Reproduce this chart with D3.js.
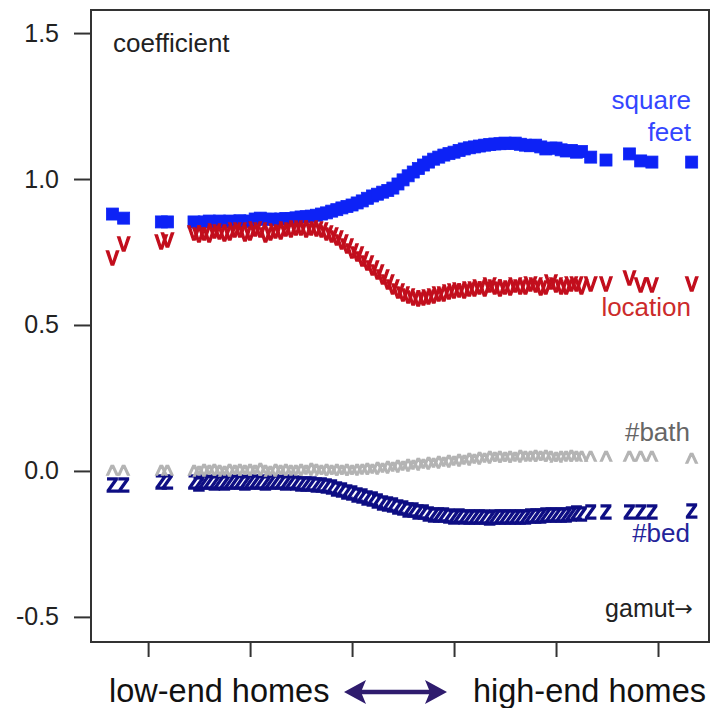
<!DOCTYPE html>
<html>
<head>
<meta charset="utf-8">
<script src="https://cdn.jsdelivr.net/npm/d3@7"></script>
<style>
  body { margin: 0; background: #fff; }
  svg { display: block; font-family: "Liberation Sans", Arial, Helvetica, sans-serif; }
</style>
</head>
<body>
<div id="chart"></div>
<script>
// gamut position of each fitted coefficient (x), shared by all four series
const gamut = [0.65, 0.76, 1.13, 1.19,
  1.45, 1.50, 1.55, 1.60, 1.65, 1.70, 1.75, 1.80, 1.85, 1.90,
  1.95, 2.00, 2.05, 2.10, 2.15, 2.20, 2.25, 2.30, 2.35, 2.40,
  2.45, 2.50, 2.55, 2.60, 2.65, 2.70, 2.75, 2.80, 2.85, 2.90,
  2.95, 3.00, 3.05, 3.10, 3.15, 3.20, 3.25, 3.30, 3.35, 3.40,
  3.45, 3.50, 3.55, 3.60, 3.65, 3.70, 3.75, 3.80, 3.85, 3.90,
  3.95, 4.00, 4.05, 4.10, 4.15, 4.20, 4.25, 4.30, 4.35, 4.40,
  4.45, 4.50, 4.55, 4.60, 4.65, 4.70, 4.75, 4.80, 4.85, 4.90,
  4.95, 5.00, 5.05, 5.10, 5.15, 5.20, 5.25,
  5.34, 5.49, 5.72, 5.83, 5.94, 6.33];

const sqftCoef = [0.880, 0.866, 0.853, 0.853,
  0.853, 0.849, 0.853, 0.856, 0.852, 0.856, 0.853, 0.856, 0.854, 0.857,
  0.855, 0.856, 0.863, 0.866, 0.862, 0.863, 0.861, 0.863, 0.865, 0.864,
  0.867, 0.870, 0.871, 0.873, 0.876, 0.880, 0.884, 0.890, 0.895, 0.901,
  0.906, 0.911, 0.918, 0.925, 0.934, 0.942, 0.948, 0.955, 0.961, 0.969,
  0.983, 0.997, 1.011, 1.024, 1.036, 1.048, 1.058, 1.068, 1.075, 1.082,
  1.087, 1.092, 1.098, 1.103, 1.107, 1.110, 1.113, 1.116, 1.118, 1.120,
  1.121, 1.123, 1.122, 1.123, 1.119, 1.116, 1.114, 1.116, 1.110, 1.103,
  1.106, 1.106, 1.100, 1.096, 1.098, 1.092, 1.094,
  1.075, 1.065, 1.086, 1.062, 1.058, 1.058];

const locationCoef = [0.729, 0.774, 0.781, 0.791,
  0.812, 0.805, 0.815, 0.808, 0.820, 0.818, 0.809, 0.812, 0.822, 0.822,
  0.811, 0.815, 0.826, 0.825, 0.808, 0.812, 0.821, 0.818, 0.828, 0.825,
  0.831, 0.829, 0.822, 0.829, 0.826, 0.822, 0.812, 0.805, 0.795, 0.781,
  0.770, 0.753, 0.742, 0.726, 0.712, 0.695, 0.680, 0.661, 0.645, 0.627,
  0.615, 0.606, 0.596, 0.589, 0.587, 0.592, 0.595, 0.599, 0.604, 0.606,
  0.610, 0.613, 0.618, 0.616, 0.621, 0.623, 0.627, 0.623, 0.634, 0.627,
  0.622, 0.630, 0.626, 0.634, 0.628, 0.630, 0.640, 0.634, 0.625, 0.630,
  0.644, 0.634, 0.628, 0.627, 0.640, 0.637, 0.630,
  0.637, 0.637, 0.658, 0.634, 0.634, 0.637];

const bathCoef = [0.003, 0.003, 0.003, 0.003,
  0.003, 0.000, 0.005, 0.002, 0.007, 0.003, 0.000, 0.005, 0.003, 0.007,
  0.002, 0.005, 0.003, 0.008, 0.004, 0.000, 0.006, 0.003, 0.007, 0.004,
  0.002, 0.006, 0.003, 0.008, 0.005, 0.003, 0.007, 0.004, 0.006, 0.003,
  0.005, 0.003, 0.006, 0.005, 0.009, 0.007, 0.012, 0.010, 0.015, 0.014,
  0.019, 0.017, 0.022, 0.021, 0.026, 0.024, 0.030, 0.027, 0.033, 0.031,
  0.036, 0.034, 0.040, 0.038, 0.043, 0.041, 0.047, 0.044, 0.049, 0.046,
  0.050, 0.048, 0.052, 0.048, 0.053, 0.050, 0.049, 0.053, 0.050, 0.054,
  0.051, 0.048, 0.052, 0.050, 0.053, 0.051, 0.049,
  0.052, 0.052, 0.050, 0.052, 0.050, 0.045];

const bedCoef = [-0.051, -0.051, -0.041, -0.041,
  -0.041, -0.045, -0.038, -0.041, -0.044, -0.038, -0.042, -0.041, -0.039, -0.038,
  -0.043, -0.041, -0.039, -0.041, -0.044, -0.038, -0.040, -0.041, -0.043, -0.041,
  -0.044, -0.045, -0.047, -0.045, -0.049, -0.051, -0.054, -0.058, -0.062, -0.068,
  -0.073, -0.079, -0.084, -0.089, -0.094, -0.099, -0.105, -0.110, -0.115, -0.120,
  -0.125, -0.130, -0.134, -0.137, -0.141, -0.144, -0.148, -0.151, -0.152, -0.154,
  -0.156, -0.158, -0.157, -0.158, -0.160, -0.161, -0.159, -0.161, -0.162, -0.161,
  -0.160, -0.161, -0.159, -0.158, -0.160, -0.158, -0.156, -0.157, -0.155, -0.154,
  -0.153, -0.151, -0.152, -0.151, -0.149, -0.147, -0.148,
  -0.144, -0.144, -0.144, -0.144, -0.144, -0.140];

const yTicks = [-0.5, 0.0, 0.5, 1.0, 1.5];
const yTickLabels = ["-0.5", "0.0", "0.5", "1.0", "1.5"];
const xTicks = [1, 2, 3, 4, 5, 6];

const width = 714, height = 708;
const margin = {top: 10, right: 5, bottom: 66, left: 91};

const svg = d3.select("#chart").append("svg")
    .attr("width", width)
    .attr("height", height);

// soften the marks a little, the original is a scaled-up bitmap
svg.append("defs").append("filter")
    .attr("id", "soft")
    .append("feGaussianBlur")
    .attr("stdDeviation", 0.5);

const x = d3.scaleLinear()
    .domain([0.44, 6.5])
    .range([margin.left, width - margin.right]);

const y = d3.scaleLinear()
    .domain([-0.586, 1.579])
    .range([height - margin.bottom, margin.top]);

// axes (R style: ticks outside the box, no labels on x)
const yAxis = svg.append("g")
    .attr("transform", `translate(${margin.left},0)`)
    .call(d3.axisLeft(y).tickValues(yTicks).tickSize(17).tickPadding(15)
        .tickFormat((d, i) => yTickLabels[i]));
yAxis.select(".domain").remove();
yAxis.selectAll("line").attr("stroke", "#333").attr("stroke-width", 2);
yAxis.selectAll("text").attr("font-size", 25).attr("fill", "#222")
    .attr("font-family", "Liberation Sans, Arial, sans-serif");

const xAxis = svg.append("g")
    .attr("transform", `translate(0,${height - margin.bottom})`)
    .call(d3.axisBottom(x).tickValues(xTicks).tickSize(15).tickFormat(""));
xAxis.select(".domain").remove();
xAxis.selectAll("line").attr("stroke", "#333").attr("stroke-width", 2);

// series
const pts = (vals) => gamut.map((g, i) => ({g: g, v: vals[i]}));

// square feet: filled squares
const sq = 12;
svg.append("g").attr("filter", "url(#soft)").selectAll("rect")
    .data(pts(sqftCoef))
    .enter().append("rect")
    .attr("x", d => x(d.g) - sq / 2)
    .attr("y", d => y(d.v) - sq / 2)
    .attr("width", sq)
    .attr("height", sq)
    .attr("fill", "#0a22f6")
    .attr("stroke", "#0a22f6")
    .attr("stroke-width", 0.8);

// glyph series drawn as characters, like pch="v" in R
const glyphSeries = [
    {vals: locationCoef, ch: "v", color: "#c20c1c", dy: "0.26em"},
    {vals: bedCoef, ch: "z", color: "#0c0c84", dy: "0.26em"},
    {vals: bathCoef, ch: "^", color: "#b4b4b4", dy: "0.55em"}
];

glyphSeries.forEach(s => {
    svg.append("g").attr("filter", "url(#soft)").selectAll("text")
        .data(pts(s.vals))
        .enter().append("text")
        .attr("x", d => x(d.g))
        .attr("y", d => y(d.v))
        .attr("dy", s.dy)
        .attr("text-anchor", "middle")
        .attr("font-size", 25)
        .attr("fill", s.color)
        .attr("stroke", s.color)
        .attr("stroke-width", 1.3)
        .text(s.ch);
});

// plot box
svg.append("rect")
    .attr("x", margin.left)
    .attr("y", margin.top)
    .attr("width", width - margin.left - margin.right)
    .attr("height", height - margin.top - margin.bottom)
    .attr("fill", "none")
    .attr("stroke", "#333")
    .attr("stroke-width", 2);

// in-plot labels
const labels = [
    {t: "coefficient", x: 113, y: 52, a: "start", c: "#222"},
    {t: "square", x: 691, y: 109, a: "end", c: "#3446ff"},
    {t: "feet", x: 691, y: 141, a: "end", c: "#3446ff"},
    {t: "location", x: 691, y: 316, a: "end", c: "#cc2b2b"},
    {t: "#bath", x: 690, y: 441, a: "end", c: "#666"},
    {t: "#bed", x: 690, y: 542, a: "end", c: "#24249a"}
];
svg.append("g").selectAll("text")
    .data(labels)
    .enter().append("text")
    .attr("x", d => d.x)
    .attr("y", d => d.y)
    .attr("text-anchor", d => d.a)
    .attr("font-size", 26)
    .attr("fill", d => d.c)
    .text(d => d.t);

// "gamut→" with a wider arrow glyph
const gamutLabel = svg.append("text")
    .attr("x", 693).attr("y", 617)
    .attr("text-anchor", "end")
    .attr("font-size", 25)
    .attr("fill", "#222");
gamutLabel.append("tspan").text("gamut");
gamutLabel.append("tspan")
    .attr("font-family", "DejaVu Sans, sans-serif")
    .attr("font-size", 22)
    .attr("dy", -1)
    .text("\u2192");

// bottom caption with double arrow
svg.append("text")
    .attr("x", 109).attr("y", 702)
    .attr("font-size", 32.5).attr("fill", "#111")
    .text("low-end homes");
svg.append("text")
    .attr("x", 706).attr("y", 702)
    .attr("text-anchor", "end")
    .attr("font-size", 32.5).attr("fill", "#111")
    .text("high-end homes");

const ay = 692, ax0 = 344, ax1 = 447;
svg.append("line")
    .attr("x1", ax0 + 12).attr("x2", ax1 - 12)
    .attr("y1", ay).attr("y2", ay)
    .attr("stroke", "#2f1c6e").attr("stroke-width", 4.5);
svg.append("path")
    .attr("d", `M${ax0},${ay} L${ax0 + 22},${ay - 12} L${ax0 + 17},${ay} L${ax0 + 22},${ay + 12} Z
                M${ax1},${ay} L${ax1 - 22},${ay - 12} L${ax1 - 17},${ay} L${ax1 - 22},${ay + 12} Z`)
    .attr("fill", "#2f1c6e");
</script>
</body>
</html>
